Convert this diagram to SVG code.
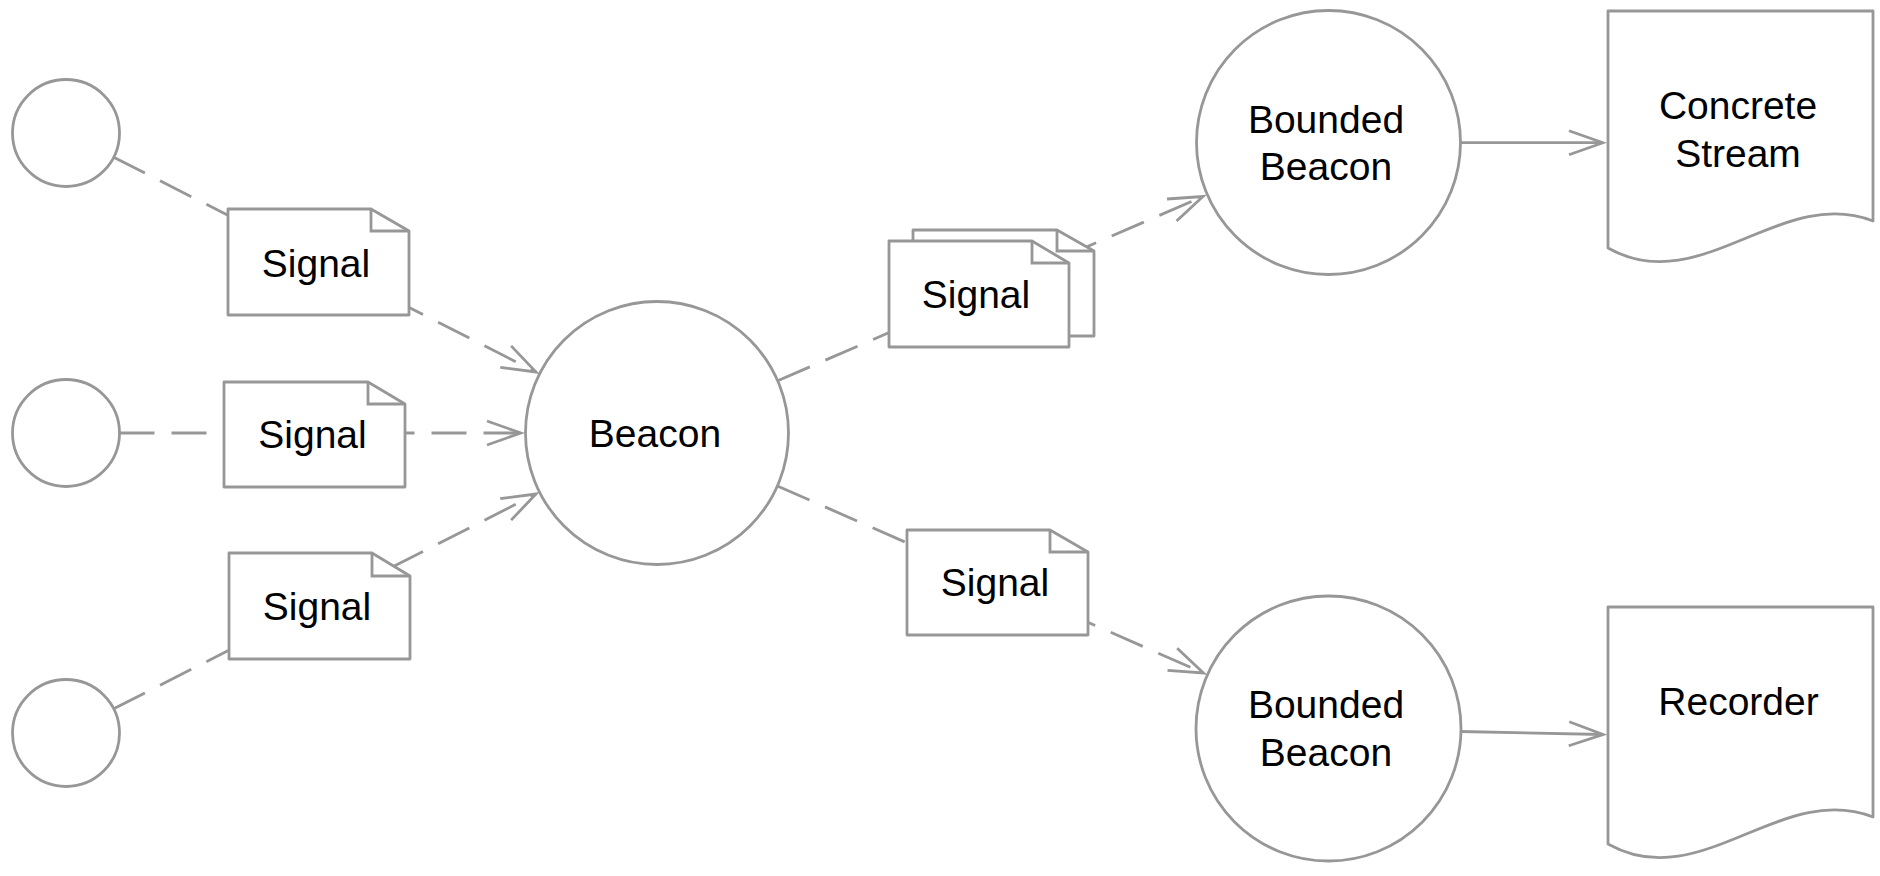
<svg xmlns="http://www.w3.org/2000/svg" width="1880" height="876" viewBox="0 0 1880 876">
<style>
.shape{fill:#fff;stroke:#979797;stroke-width:2.8;stroke-linejoin:round}
.fold{fill:none;stroke:#979797;stroke-width:2.8}
.dash{fill:none;stroke:#979797;stroke-width:2.8;stroke-dasharray:35 17}
.solid{fill:none;stroke:#979797;stroke-width:2.8}
.lbl{font-family:"Liberation Sans",Arial,Helvetica,sans-serif;font-size:39px;fill:#000;text-anchor:middle}
</style>
<defs>
<marker id="arr" markerUnits="userSpaceOnUse" markerWidth="44" markerHeight="32" viewBox="-40 -16 44 32" refX="0" refY="0" orient="auto">
<path d="M-34,-12 L0,0 L-34,12" fill="none" stroke="#979797" stroke-width="2.8" stroke-dasharray="none"/>
</marker>
</defs>
<rect width="1880" height="876" fill="#fff"/>
<g id="connectors">
<line class="dash" x1="113.7" y1="157.2" x2="536" y2="372" marker-end="url(#arr)"/>
<line class="dash" x1="119.5" y1="433" x2="521" y2="433" marker-end="url(#arr)"/>
<line class="dash" x1="113.7" y1="708.8" x2="536" y2="494" marker-end="url(#arr)"/>
<line class="dash" x1="777.7" y1="380.8" x2="1203" y2="196.5" marker-end="url(#arr)"/>
<line class="dash" x1="777.4" y1="486" x2="1203.5" y2="673" marker-end="url(#arr)"/>
<line class="solid" x1="1460" y1="142.7" x2="1603" y2="142.7" marker-end="url(#arr)"/>
<line class="solid" x1="1460" y1="731.5" x2="1603" y2="734.5" marker-end="url(#arr)"/>
</g>
<g id="source1"><circle class="shape" cx="66" cy="133" r="53.5"/></g>
<g id="source2"><circle class="shape" cx="66" cy="433" r="53.5"/></g>
<g id="source3"><circle class="shape" cx="66" cy="733" r="53.5"/></g>
<g id="signal1">
<path class="shape" d="M228,209 H371 L409,231 V315 H228 Z"/>
<path class="fold" d="M371,209 V231 H409"/>
<text class="lbl" x="316" y="277">Signal</text>
</g>
<g id="signal2">
<path class="shape" d="M224,382 H368 L405,404 V487 H224 Z"/>
<path class="fold" d="M368,382 V404 H405"/>
<text class="lbl" x="312.5" y="448">Signal</text>
</g>
<g id="signal3">
<path class="shape" d="M229,553 H372 L410,576 V659 H229 Z"/>
<path class="fold" d="M372,553 V576 H410"/>
<text class="lbl" x="317" y="620">Signal</text>
</g>
<g id="beacon">
<circle class="shape" cx="657" cy="433" r="131.5"/>
<text class="lbl" x="655" y="447">Beacon</text>
</g>
<g id="signal-stack">
<path class="shape" d="M913,230 H1057 L1094,251 V336 H913 Z"/>
<path class="fold" d="M1057,230 V251 H1094"/>
<path class="shape" d="M889,241 H1032 L1069,263 V347 H889 Z"/>
<path class="fold" d="M1032,241 V263 H1069"/>
<text class="lbl" x="976" y="308">Signal</text>
</g>
<g id="signal4">
<path class="shape" d="M907,530 H1050 L1088,552 V635 H907 Z"/>
<path class="fold" d="M1050,530 V552 H1088"/>
<text class="lbl" x="995" y="596">Signal</text>
</g>
<g id="bounded1">
<circle class="shape" cx="1328.5" cy="142.5" r="132"/>
<text class="lbl" x="1326" y="132.7">Bounded</text>
<text class="lbl" x="1326" y="180">Beacon</text>
</g>
<g id="bounded2">
<circle class="shape" cx="1328.5" cy="728.5" r="132.5"/>
<text class="lbl" x="1326" y="718.3">Bounded</text>
<text class="lbl" x="1326" y="766">Beacon</text>
</g>
<g id="concrete-stream">
<path class="shape" d="M1608,11 H1873 V221 C1780,185 1700,300 1608,248 Z"/>
<text class="lbl" x="1738" y="119.3">Concrete</text>
<text class="lbl" x="1738" y="166.7">Stream</text>
</g>
<g id="recorder">
<path class="shape" d="M1608,607 H1873 V817 C1780,781 1700,896 1608,844 Z"/>
<text class="lbl" x="1738.5" y="715">Recorder</text>
</g>
</svg>
